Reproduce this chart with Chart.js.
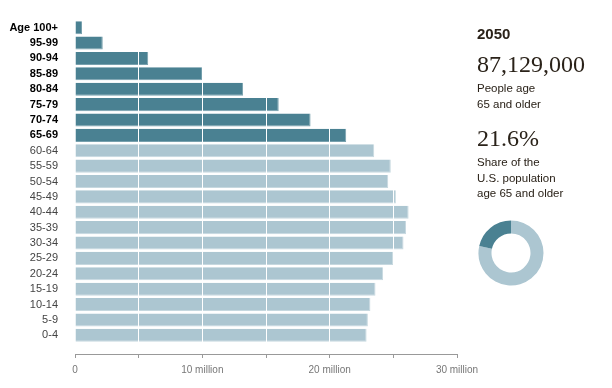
<!DOCTYPE html>
<html>
<head>
<meta charset="utf-8">
<title>Population by age, 2050</title>
<script src="https://cdn.jsdelivr.net/npm/chart.js@4.4.0/dist/chart.umd.min.js"></script>
<style>
  html, body { margin: 0; padding: 0; background: #fff; }
  #wrap { position: relative; width: 612px; height: 388px; overflow: hidden;
          font-family: "Liberation Sans", Arial, sans-serif; color: #2a2219; }
  #bars { position: absolute; left: 0; top: 0; }
  #ring { position: absolute; left: 471px; top: 213px; }
  .side { position: absolute; left: 477px; white-space: nowrap; }
  .year { font-size: 15px; font-weight: bold; line-height: 18px; }
  .big  { font-family: "Liberation Serif", "Times New Roman", serif; font-size: 24px; line-height: 28px; }
  .note { font-size: 11.5px; line-height: 15.5px; }
</style>
</head>
<body>
<div id="wrap">
  <canvas id="bars" width="612" height="388"></canvas>
  <div class="side year" id="year" style="top:25px"></div>
  <div class="side big" id="total" style="top:50px"></div>
  <div class="side note" style="top:81px">People age<br>65 and older</div>
  <div class="side big" id="share" style="top:124px"></div>
  <div class="side note" style="top:155px">Share of the<br>U.S. population<br>age 65 and older</div>
  <canvas id="ring" width="80" height="80"></canvas>
</div>
<script>
// age groups, top row first
const ageGroups = ['Age 100+', '95-99', '90-94', '85-89', '80-84', '75-79', '70-74', '65-69',
  '60-64', '55-59', '50-54', '45-49', '40-44', '35-39', '30-34', '25-29',
  '20-24', '15-19', '10-14', '5-9', '0-4'];
// people per group, millions
const population = [0.55, 2.18, 5.75, 10.03, 13.2, 16.0, 18.5, 21.3,
  23.5, 24.8, 24.6, 25.2, 26.2, 26.0, 25.8, 25.0,
  24.2, 23.6, 23.2, 23.0, 22.9];
const olderGroups = ['Age 100+', '95-99', '90-94', '85-89', '80-84', '75-79', '70-74', '65-69'];
const axisLabels = [0, 10, 20, 30];   // millions, labelled ticks

const summaryYear = '2050';
const olderTotal = '87,129,000';
const olderShare = 21.6;              // percent

const DARK = '#4a8192';
const LIGHT = '#acc6d1';
const FONT = '"Liberation Sans", Arial, sans-serif';

const isOlder = i => olderGroups.includes(ageGroups[i]);

document.getElementById('year').textContent = summaryYear;
document.getElementById('total').textContent = olderTotal;
document.getElementById('share').textContent = olderShare + '%';

/* --------------------------------- Bars --------------------------------- */
new Chart(document.getElementById('bars'), {
  type: 'bar',
  data: {
    labels: ageGroups,
    datasets: [{
      data: population,
      backgroundColor: ctx => isOlder(ctx.dataIndex) ? DARK : LIGHT,
      borderColor: ctx => isOlder(ctx.dataIndex) ? '#78a1ae' : '#c6d8df',
      borderWidth: { top: 0, left: 0, right: 1, bottom: 1 },
      borderSkipped: false,
      barPercentage: 0.85,
      categoryPercentage: 1
    }]
  },
  options: {
    indexAxis: 'y',
    responsive: false,
    animation: false,
    layout: { padding: { top: 20, right: 155, bottom: 12, left: 0 } },
    plugins: { legend: { display: false }, tooltip: { enabled: false } },
    scales: {
      y: {
        grid: { display: false, drawTicks: false },
        border: { display: false },
        ticks: {
          autoSkip: false,
          padding: 17,
          color: ctx => isOlder(ctx.index) ? '#000' : '#444',
          font: ctx => ({ family: FONT, size: 11, weight: isOlder(ctx.index) ? 'bold' : 'normal' })
        },
        afterFit: s => { s.width = 75; s.paddingTop = 0; s.paddingBottom = 0; }
      },
      // white 5-million lines drawn over the bars
      x: {
        min: 0, max: 30, weight: 0,
        ticks: { display: false, stepSize: 5 },
        grid: {
          z: 1,
          color: ctx => ctx.tick && ctx.tick.value === 0 ? 'rgba(0,0,0,0)' : '#fff',
          lineWidth: 1, tickLength: 11, tickColor: 'rgba(0,0,0,0)'
        },
        border: { display: false },
        afterFit: s => { s.height = 11; s.paddingLeft = 0; s.paddingRight = 0; }
      },
      // visible axis below a small gap
      x2: {
        axis: 'x', position: 'bottom', weight: 1,
        min: 0, max: 30,
        ticks: {
          stepSize: 5, padding: 6, color: '#777', maxRotation: 0, autoSkip: false,
          font: { family: FONT, size: 10 },
          callback: v => axisLabels.includes(v) ? (v === 0 ? '0' : v + ' million') : ''
        },
        grid: { drawOnChartArea: false, tickLength: 4, tickColor: '#999' },
        border: { color: '#999' },
        afterFit: s => { s.height = 22; s.paddingLeft = 0; s.paddingRight = 0; }
      }
    }
  }
});

/* --------------------------------- Ring --------------------------------- */
new Chart(document.getElementById('ring'), {
  type: 'doughnut',
  data: {
    labels: ['Under 65', '65 and older'],
    datasets: [{
      data: [100 - olderShare, olderShare],
      backgroundColor: [LIGHT, DARK],
      borderWidth: 0
    }]
  },
  options: {
    responsive: false,
    animation: false,
    radius: 32.5,
    cutout: '60%',
    plugins: { legend: { display: false }, tooltip: { enabled: false } }
  }
});
</script>
</body>
</html>
